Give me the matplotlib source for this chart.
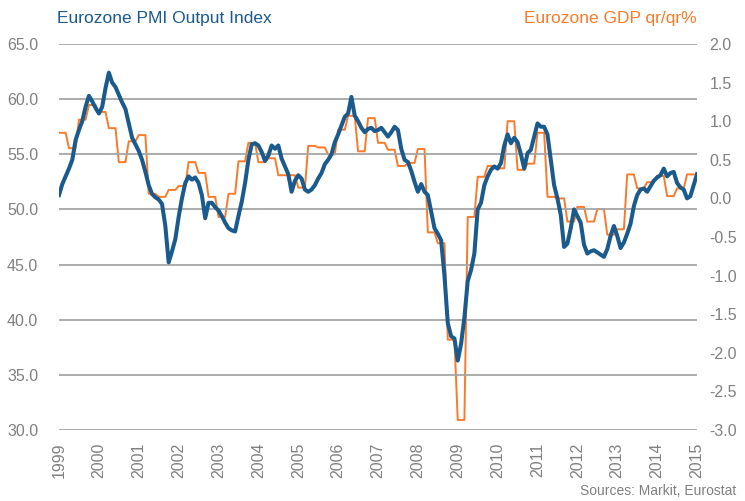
import numpy as np
import matplotlib
matplotlib.use("Agg")
import matplotlib.pyplot as plt

plt.rcParams['font.family'] = ['Liberation Sans', 'DejaVu Sans']

# Eurozone PMI composite output index, monthly Jan 1999 - Jan 2015
pmi = [51.3, 52.3, 53.0, 53.7, 54.5, 56.3, 57.2, 58.0, 59.3, 60.3, 59.8, 59.2,
       58.7, 59.3, 61.0, 62.4, 61.5, 61.1, 60.4, 59.7, 59.1, 57.8, 56.5, 55.9,
       55.3, 54.5, 53.4, 52.2, 51.4, 51.1, 50.9, 50.5, 48.5, 45.2, 46.2, 47.3,
       49.3, 51.0, 52.4, 53.0, 52.7, 52.9, 52.4, 51.3, 49.2, 50.6, 50.6, 50.2,
       49.9, 49.4, 48.8, 48.3, 48.1, 48.0, 49.4, 50.7, 52.4, 54.5, 55.9, 56.0,
       55.8, 55.2, 54.4, 54.9, 55.8, 55.5, 55.8, 54.6, 53.9, 53.2, 51.6, 52.6,
       53.1, 52.8, 51.8, 51.6, 51.8, 52.2, 52.8, 53.3, 54.1, 54.5, 55.0, 56.1,
       56.8, 57.6, 58.4, 58.7, 60.2, 58.5, 58.0, 57.4, 57.0, 57.3, 57.4, 57.1,
       57.2, 57.4, 57.0, 56.6, 57.0, 57.5, 57.2, 55.5, 54.5, 54.3, 53.5, 52.5,
       51.6, 52.3, 51.6, 51.3, 49.8, 48.3, 47.8, 47.2, 44.0, 39.7, 38.5, 38.3,
       36.3, 37.8, 40.2, 43.5, 44.5, 46.0, 50.0, 50.6, 52.2, 53.0, 53.6, 53.9,
       53.7, 54.2, 55.8, 56.8, 56.0, 56.5, 56.1, 55.0, 53.7, 55.1, 55.4, 56.6,
       57.8, 57.5, 57.5, 56.8, 54.5, 52.2, 51.0, 49.5, 46.6, 46.9, 48.3, 50.0,
       49.4, 48.8, 46.8, 46.0, 46.2, 46.3, 46.1, 45.9, 45.7, 46.4, 47.6, 48.5,
       47.6, 46.5, 47.0, 47.8, 48.7, 50.3, 51.3, 51.8, 51.9, 51.6, 52.1, 52.6,
       52.9, 53.1, 53.7, 53.0, 53.3, 53.4, 52.4, 52.0, 51.8, 51.0, 51.2, 52.2,
       53.2]

# Eurozone GDP q/q %, quarterly 1999Q1 - 2014Q4
gdp_q = [0.85, 0.65, 1.02, 1.21, 1.12, 0.91, 0.47, 0.74,
         0.82, 0.06, 0.02, 0.11, 0.16, 0.47, 0.33, 0.02,
         -0.24, 0.06, 0.48, 0.72, 0.47, 0.52, 0.30, 0.30,
         0.14, 0.68, 0.66, 0.57, 0.89, 1.07, 0.61, 1.04,
         0.72, 0.63, 0.42, 0.46, 0.64, -0.44, -0.58, -1.83,
         -2.87, -0.24, 0.28, 0.42, 0.39, 1.00, 0.37, 0.45,
         0.85, 0.02, 0.00, -0.30, -0.11, -0.30, -0.14, -0.47,
         -0.40, 0.31, 0.13, 0.21, 0.29, 0.03, 0.13, 0.31]

years = list(range(1999, 2016))

blue = '#1b5a8d'
orange = '#fa7a2a'
grey = '#808080'

t_pmi = 1999 + np.arange(len(pmi)) / 12.0
gdp_m = np.repeat(gdp_q, 3)          # quarterly value held for each month
t_gdp = 1999 + np.arange(len(gdp_m)) / 12.0

fig = plt.figure(figsize=(7.45, 5.01), dpi=100)
ax = fig.add_axes([59 / 745, 1 - 430 / 501, 638 / 745, 386 / 501])
ax2 = ax.twinx()

ax.set_xlim(1999, 2015)
ax.set_ylim(30, 65)
ax.set_yticks(np.arange(30, 66, 5))
ax.set_yticklabels(['%.1f' % v for v in np.arange(30, 66, 5)])
ax.grid(axis='y', color='#a6a6a6', linewidth=1.3)
ax.set_axisbelow(True)
ax.set_xticks(years)
ax.set_xticklabels([str(y) for y in years], rotation=90)

ax2.set_ylim(-3.0, 2.0)
ax2.set_yticks(np.arange(-3.0, 2.01, 0.5))
ax2.set_yticklabels(['%.1f' % v for v in np.arange(-3.0, 2.01, 0.5)])

for a in (ax, ax2):
    for s in a.spines.values():
        s.set_visible(False)
    a.tick_params(length=0, colors=grey, labelsize=11.5)
ax.tick_params(axis='y', pad=15)
ax2.tick_params(axis='y', pad=9)
ax.tick_params(axis='x', pad=9)

ax2.plot(t_gdp, gdp_m, color=orange, linewidth=1.4, zorder=2)
ax.plot(t_pmi, pmi, color=blue, linewidth=2.9, zorder=3)
ax.set_zorder(ax2.get_zorder() + 1)
ax.patch.set_visible(False)

fig.text(57 / 745, 1 - 19 / 501, 'Eurozone PMI Output Index', color=blue,
         fontsize=12.5, ha='left', va='center')
fig.text(697 / 745, 1 - 19 / 501, 'Eurozone GDP qr/qr%', color=orange,
         fontsize=12.5, ha='right', va='center')
fig.text(736 / 745, 1 - 491 / 501, 'Sources: Markit, Eurostat', color=grey,
         fontsize=10, ha='right', va='center')

fig.savefig('out.png', dpi=100)
